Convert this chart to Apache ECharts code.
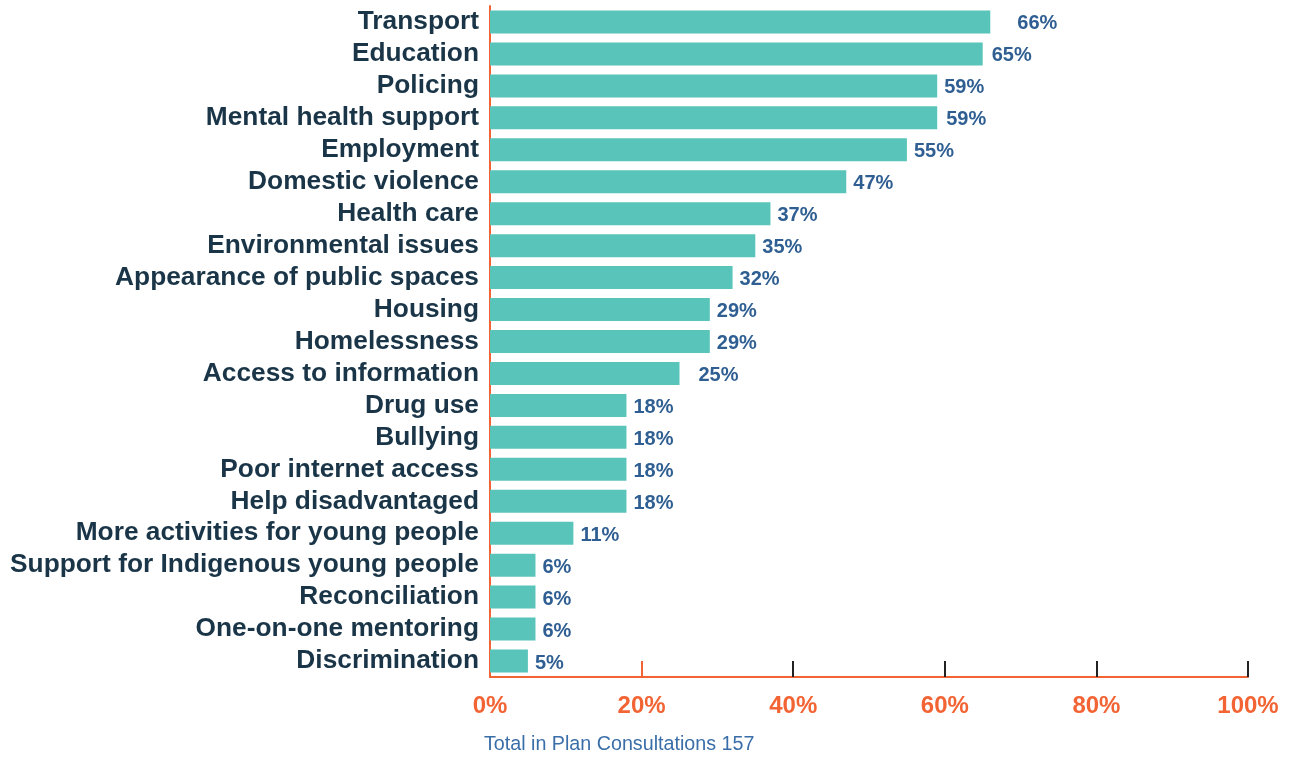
<!DOCTYPE html>
<html><head><meta charset="utf-8">
<script src="https://cdn.jsdelivr.net/npm/echarts@6/dist/echarts.min.js"></script>
<style>html,body{margin:0;padding:0;background:#fff}#c{width:1292px;height:758px}</style>
</head><body><div id="c"></div>
<script>
const categories = ["Transport","Education","Policing","Mental health support","Employment","Domestic violence","Health care","Environmental issues","Appearance of public spaces","Housing","Homelessness","Access to information","Drug use","Bullying","Poor internet access","Help disadvantaged","More activities for young people","Support for Indigenous young people","Reconciliation","One-on-one mentoring","Discrimination"];
const values = [66,65,59,59,55,47,37,35,32,29,29,25,18,18,18,18,11,6,6,6,5];
const tickValues = [0,20,40,60,80,100];
const caption = "Total in Plan Consultations 157";

const FONT = "'Liberation Sans', Arial, sans-serif";
const ORANGE = "#f26434";
const labelDist = {0: 27, 1: 9, 3: 9, 11: 19};
const chart = echarts.init(document.getElementById('c'), null, {renderer:'canvas'});
chart.setOption({
  animation:false,
  textStyle:{fontFamily:FONT},
  grid:{left:490, right:44, top:6, bottom:81, containLabel:false},
  xAxis:[{
    type:'value', min:0, max:100, interval:20, position:'bottom',
    axisLine:{show:true, lineStyle:{color:ORANGE, width:2}},
    axisTick:{show:true, inside:true, length:16, lineStyle:{color:'#222', width:2},
      customValues: tickValues.slice(2)},
    axisLabel:{color:ORANGE, fontWeight:'bold', fontSize:24, fontFamily:FONT, margin:17,
      customValues: tickValues,
      formatter:function(v){return v+'%';}},
    splitLine:{show:false}
  },{
    type:'value', min:0, max:100, interval:20, position:'bottom',
    axisLine:{show:false},
    axisTick:{show:true, inside:true, length:16, lineStyle:{color:ORANGE, width:2},
      customValues:[tickValues[1]]},
    axisLabel:{show:false}, splitLine:{show:false}
  }],
  yAxis:{
    type:'category', inverse:true, data:categories,
    axisLine:{show:true, lineStyle:{color:ORANGE, width:2}},
    axisTick:{show:false},
    axisLabel:{interval:0, color:'#1a3547', fontWeight:'bold', fontSize:26.3, fontFamily:FONT, margin:11}
  },
  series:[{
    type:'bar', xAxisIndex:0,
    data: values.map((v,i)=>({value:v, label:{distance: labelDist[i]||7}})),
    barCategoryGap:'28%',
    itemStyle:{color:'#59c4b9'},
    label:{show:true, position:'right', offset:[0,2], color:'#2f5f92', fontWeight:'bold', fontSize:20, fontFamily:FONT,
      formatter:function(p){return p.value+'%';}}
  }],
  graphic:[{type:'text', left:484, top:735, style:{text:caption, fill:'#3a6ea8', font:'19.7px '+FONT}}]
});
</script></body></html>
